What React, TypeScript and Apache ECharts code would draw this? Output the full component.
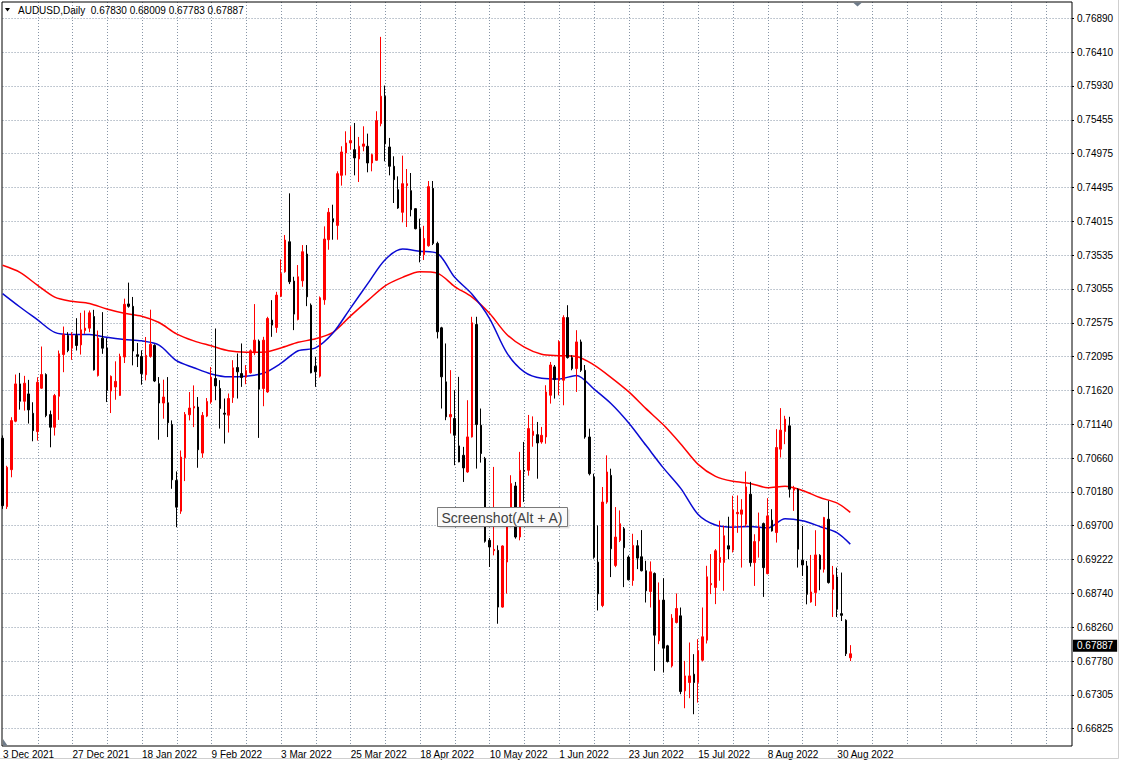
import React, { useEffect, useRef } from "react";
import * as echarts from "echarts";

// ---------- DATA ----------
const SYMBOL = "AUDUSD,Daily";
const MONTHS = ["Jan","Feb","Mar","Apr","May","Jun","Jul","Aug","Sep","Oct","Nov","Dec"];
const FIRST_DAY = [2021, 11, 3]; // 3 Dec 2021 (UTC y, m, d)
const BAR_COUNT = 196;
const SLOT_COUNT = 247; // bars + empty space on the right

const opens = [
0.70940,0.69971,0.70495,0.71181,0.71710,0.71464,0.71568,0.71294,0.71034,0.71649,
0.71843,0.71275,0.71096,0.71535,0.72126,0.72396,0.72216,0.72396,0.72263,0.72466,
0.72500,0.72665,0.71828,0.72358,0.72219,0.71609,0.71666,0.71547,0.72091,0.72843,
0.72809,0.72124,0.72100,0.71840,0.72100,0.72256,0.71713,0.71439,0.71443,0.71136,
0.70342,0.69907,0.70663,0.71273,0.71368,0.71382,0.70730,0.71254,0.71453,0.71786,
0.71645,0.71295,0.71267,0.71517,0.71942,0.71857,0.71810,0.71867,0.72150,0.72316,
0.71645,0.71597,0.72614,0.72510,0.72954,0.73299,0.73724,0.73167,0.72623,0.73171,
0.73550,0.72826,0.71961,0.71820,0.72902,0.73753,0.74051,0.73956,0.74665,0.74982,
0.75124,0.75029,0.74897,0.75077,0.75077,0.74840,0.74878,0.75398,0.75786,0.75067,
0.74793,0.74462,0.74141,0.74519,0.74448,0.74193,0.73909,0.73540,0.73668,0.74481,
0.73701,0.72505,0.71739,0.71243,0.71219,0.70832,0.70699,0.70463,0.70959,0.72552,
0.71125,0.70652,0.69494,0.69347,0.69352,0.68548,0.69187,0.69707,0.70264,0.69541,
0.70486,0.70486,0.70980,0.70991,0.70887,0.70958,0.71549,0.71951,0.71762,0.71762,
0.72650,0.72083,0.71927,0.72305,0.71903,0.70958,0.70391,0.69185,0.68571,0.70036,
0.70414,0.69138,0.69493,0.69658,0.69256,0.68925,0.69417,0.69261,0.69063,0.68769,
0.69025,0.68070,0.68647,0.67999,0.67715,0.68330,0.68424,0.67361,0.67479,0.67597,
0.67479,0.67796,0.68079,0.68864,0.68826,0.69181,0.69181,0.69417,0.69355,0.69870,
0.69864,0.69722,0.70147,0.69178,0.69486,0.69731,0.69022,0.69779,0.69604,0.70786,
0.71036,0.71116,0.70204,0.70218,0.69212,0.69131,0.68621,0.68753,0.69282,0.69084,
0.69793,0.68800,0.68975,0.68455,0.68361,0.67830
];
const highs = [
0.70980,0.70550,0.71238,0.71843,0.71866,0.71824,0.71767,0.71450,0.71805,0.72240,
0.71860,0.71332,0.71568,0.72183,0.72523,0.72443,0.72443,0.72641,0.72717,0.72750,
0.72750,0.72760,0.72466,0.72727,0.72358,0.71830,0.72030,0.72138,0.72918,0.73145,
0.72942,0.72290,0.72186,0.72375,0.72762,0.72271,0.71807,0.71770,0.71807,0.71193,
0.70470,0.70767,0.71311,0.71595,0.71689,0.71524,0.71311,0.71510,0.71949,0.72495,
0.71763,0.71503,0.71574,0.72046,0.72141,0.72283,0.71976,0.72198,0.72841,0.72339,
0.72377,0.72661,0.72897,0.73015,0.73474,0.73819,0.74410,0.73228,0.73394,0.73677,
0.73677,0.72850,0.72094,0.72949,0.73942,0.74202,0.74249,0.74722,0.75077,0.75289,
0.75360,0.75407,0.75209,0.75360,0.75256,0.74972,0.75573,0.76627,0.75937,0.75195,
0.74935,0.74651,0.74944,0.74755,0.74698,0.74200,0.74051,0.73950,0.74585,0.74585,
0.73725,0.72519,0.72283,0.71905,0.71621,0.71810,0.70818,0.71479,0.72661,0.72661,
0.71361,0.70676,0.69527,0.70534,0.69423,0.69423,0.69943,0.70416,0.70321,0.70747,
0.70888,0.71270,0.71250,0.71171,0.71100,0.71691,0.72021,0.71978,0.72329,0.72683,
0.72825,0.72116,0.72471,0.72338,0.71978,0.71076,0.70438,0.69705,0.70249,0.70698,
0.70509,0.69965,0.69918,0.69682,0.69280,0.69587,0.69497,0.69639,0.69204,0.69195,
0.69039,0.68897,0.68958,0.68013,0.68448,0.68741,0.68542,0.67786,0.68046,0.67881,
0.68093,0.68542,0.69133,0.69299,0.69370,0.69772,0.69701,0.69828,0.70126,0.70130,
0.70077,0.70469,0.70322,0.69580,0.69887,0.69746,0.70091,0.69935,0.71069,0.71367,
0.71258,0.71244,0.70266,0.70233,0.69698,0.69202,0.69287,0.69637,0.69297,0.69826,
0.70053,0.69131,0.69108,0.69037,0.68375,0.68009
];
const lows = [
0.69940,0.69938,0.70387,0.71167,0.71346,0.71332,0.71148,0.70897,0.70907,0.71640,
0.71238,0.70812,0.70978,0.71200,0.71876,0.72159,0.72051,0.72183,0.72126,0.72419,
0.72443,0.71899,0.71814,0.72136,0.71453,0.71297,0.71486,0.71540,0.72006,0.72790,
0.71973,0.71949,0.71699,0.71760,0.72081,0.71736,0.70919,0.71217,0.70957,0.70224,
0.69680,0.69869,0.70333,0.71193,0.71098,0.70522,0.70663,0.71240,0.71429,0.71479,
0.71077,0.70865,0.71021,0.71441,0.71503,0.71668,0.71706,0.71857,0.72117,0.70945,
0.71394,0.71583,0.72377,0.72434,0.72940,0.73285,0.73124,0.72472,0.72610,0.73086,
0.72812,0.71860,0.71668,0.71800,0.72831,0.73611,0.73753,0.73753,0.74519,0.74665,
0.75029,0.74665,0.74571,0.75006,0.74708,0.74722,0.74870,0.75360,0.74864,0.74665,
0.74273,0.74190,0.73999,0.73933,0.74084,0.73900,0.73432,0.73465,0.73654,0.73677,
0.72354,0.71361,0.71196,0.71007,0.70558,0.70600,0.70321,0.70450,0.70950,0.70510,
0.70595,0.69461,0.69116,0.69281,0.68312,0.68540,0.68738,0.69680,0.69518,0.69494,
0.70038,0.70410,0.70820,0.70367,0.70863,0.70863,0.71431,0.71502,0.71549,0.71407,
0.72069,0.71903,0.71596,0.71880,0.70934,0.70414,0.69233,0.68500,0.68547,0.70012,
0.68973,0.69114,0.69469,0.68831,0.68925,0.68850,0.69086,0.69053,0.68613,0.68542,
0.67644,0.68023,0.67621,0.67763,0.67692,0.68316,0.67314,0.67115,0.67257,0.67030,
0.67195,0.67777,0.68032,0.68732,0.68590,0.68921,0.68779,0.69228,0.69322,0.69600,
0.69108,0.69684,0.69122,0.68848,0.69249,0.68692,0.69013,0.69618,0.69462,0.70667,
0.70856,0.70100,0.69911,0.69108,0.68989,0.68587,0.68610,0.68564,0.68786,0.69037,
0.68881,0.68408,0.68408,0.68351,0.67855,0.67783
];
const closes = [
0.69985,0.70528,0.71190,0.71710,0.71464,0.71720,0.71342,0.71048,0.71734,0.71843,
0.71261,0.71096,0.71545,0.72136,0.72405,0.72183,0.72405,0.72254,0.72476,0.72500,
0.72717,0.71909,0.72358,0.72216,0.71618,0.71817,0.71746,0.72100,0.72838,0.72809,
0.72176,0.72100,0.71855,0.72115,0.72271,0.71751,0.71439,0.71524,0.71160,0.70351,
0.69964,0.70673,0.71278,0.71368,0.71391,0.70777,0.71264,0.71462,0.71807,0.71682,
0.71361,0.71281,0.71503,0.71938,0.71881,0.71801,0.71899,0.72179,0.72330,0.71635,
0.72330,0.72637,0.72543,0.72968,0.73275,0.73748,0.73157,0.72699,0.73228,0.73583,
0.72944,0.71867,0.71881,0.72930,0.73763,0.74141,0.74004,0.74689,0.74996,0.75124,
0.75157,0.74911,0.75077,0.75110,0.74840,0.74958,0.75440,0.75786,0.75110,0.74793,
0.74604,0.74202,0.74547,0.74547,0.74178,0.73909,0.73530,0.73770,0.74505,0.73701,
0.72448,0.71810,0.71243,0.71276,0.70983,0.70605,0.70520,0.70959,0.72576,0.71134,
0.70723,0.69480,0.69399,0.69366,0.68548,0.69414,0.69716,0.70298,0.69541,0.70486,
0.70472,0.71077,0.71040,0.70873,0.70982,0.71596,0.71978,0.71771,0.72305,0.72650,
0.72083,0.71927,0.72305,0.71903,0.70958,0.70438,0.69256,0.68736,0.70036,0.70462,
0.69374,0.69540,0.69729,0.69389,0.68935,0.69422,0.69242,0.69063,0.68779,0.69048,
0.68150,0.68647,0.67966,0.67777,0.68391,0.68528,0.67351,0.67573,0.67573,0.67479,
0.67928,0.68127,0.68977,0.68883,0.69346,0.69252,0.69559,0.69370,0.69923,0.69890,
0.69925,0.70251,0.69178,0.69476,0.69675,0.69107,0.69840,0.69628,0.70809,0.71055,
0.71211,0.70218,0.70233,0.69368,0.69145,0.68729,0.68762,0.69287,0.69084,0.69817,
0.68895,0.69004,0.68517,0.68431,0.67888,0.67887
];

// moving averages at these bars
const maBars = [0,4,8,12,16,20,24,28,32,36,40,44,48,52,56,60,64,68,72,76,80,84,88,92,96,100,104,108,112,116,120,124,128,132,136,140,144,148,152,156,160,164,168,172,176,180,184,188,192,195];
const maSlow = [0.7339,0.7329,0.7311,0.7294,0.7288,0.7285,0.7277,0.7271,0.7267,0.7258,0.7242,0.7232,0.7225,0.7218,0.7216,0.7216,0.7222,0.7230,0.7235,0.7244,0.7267,0.7289,0.7310,0.7322,0.7330,0.7328,0.7309,0.7294,0.7271,0.7241,0.7223,0.7213,0.7211,0.7210,0.7198,0.7180,0.7160,0.7136,0.7113,0.7086,0.7057,0.7040,0.7033,0.7030,0.7024,0.7026,0.7020,0.7010,0.7002,0.6989];
const maFast = [0.7299,0.7280,0.7262,0.7244,0.7241,0.7241,0.7237,0.7234,0.7232,0.7226,0.7204,0.7194,0.7185,0.7181,0.7182,0.7186,0.7200,0.7218,0.7222,0.7243,0.7278,0.7313,0.7347,0.7362,0.7359,0.7356,0.7322,0.7298,0.7264,0.7215,0.7188,0.7179,0.7178,0.7183,0.7164,0.7143,0.7116,0.7084,0.7052,0.7023,0.6986,0.6971,0.6968,0.6969,0.6967,0.6980,0.6977,0.6969,0.6960,0.6944];

// right-axis tick labels, bottom to top
const yTickLabels = ["0.66825","0.67305","0.67780","0.68260","0.68740","0.69222","0.69700","0.70180","0.70660","0.71140","0.71620","0.72095","0.72575","0.73055","0.73535","0.74015","0.74495","0.74975","0.75455","0.75930","0.76410","0.76890"];

// ---------- helpers ----------
function buildCategories(): string[] {
  const out: string[] = [];
  let t = Date.UTC(FIRST_DAY[0], FIRST_DAY[1], FIRST_DAY[2]);
  while (out.length < BAR_COUNT) {
    const d = new Date(t);
    const wd = d.getUTCDay();
    if (wd !== 0 && wd !== 6) out.push(`${d.getUTCDate()} ${MONTHS[d.getUTCMonth()]} ${d.getUTCFullYear()}`);
    t += 86400000;
  }
  while (out.length < SLOT_COUNT) out.push("");
  return out;
}

function sparse(values: number[]): (number | null)[] {
  const arr: (number | null)[] = new Array(BAR_COUNT).fill(null);
  maBars.forEach((b, i) => { arr[b] = values[i]; });
  return arr;
}

const FONT = '"Liberation Sans", Arial, sans-serif';
const GRID_LINE = { color: "#8795a6", type: [1, 2] as any, width: 1 };

export default function App() {
  const ref = useRef<HTMLDivElement>(null);

  useEffect(() => {
    if (!ref.current) return;
    const chart = echarts.init(ref.current, null, { renderer: "svg" });
    const cats = buildCategories();
    const yMin = parseFloat(yTickLabels[0]);
    const yMax = parseFloat(yTickLabels[yTickLabels.length - 1]);
    const yStep = (yMax - yMin) / (yTickLabels.length - 1);
    const last = BAR_COUNT - 1;
    const header = `${SYMBOL}  ${opens[last].toFixed(5)} ${highs[last].toFixed(5)} ${lows[last].toFixed(5)} ${closes[last].toFixed(5)}`;
    const candleData = opens.map((o, i) => [o, closes[i], lows[i], highs[i]]);

    const plotLeft = 2.56;
    const plotWidth = 1072 - plotLeft;

    const option: any = {
      animation: false,
      backgroundColor: "#ffffff",
      textStyle: { fontFamily: FONT },
      grid: [
        { left: 2, top: 2, width: 1070, height: 744, show: true, borderColor: "#000000", borderWidth: 1, backgroundColor: "transparent", z: 3 },
        { left: plotLeft, top: 2, width: plotWidth, height: 744 },
        { left: plotLeft, top: 18.3, width: plotWidth, height: 710.4 },
      ],
      xAxis: [
        { type: "value", gridIndex: 0, show: false, min: 0, max: 1 },
        {
          type: "category", gridIndex: 1, data: cats, boundaryGap: false,
          axisLine: { show: false }, axisTick: { show: false },
          axisLabel: {
            interval: (i: number) => i % 16 === 0 && i < BAR_COUNT,
            align: "left", margin: 3, fontSize: 10, color: "#000000", fontFamily: FONT,
          },
          splitLine: { show: true, interval: (i: number) => i > 0 && i % 8 === 0, lineStyle: GRID_LINE },
        },
        { type: "category", gridIndex: 2, data: cats, boundaryGap: false, show: false },
      ],
      yAxis: [
        { type: "value", gridIndex: 0, show: false, min: 0, max: 1 },
        { type: "value", gridIndex: 1, show: false, min: 0, max: 1 },
        {
          type: "value", gridIndex: 2, position: "right", min: yMin, max: yMax, interval: yStep,
          axisLine: { show: false },
          axisTick: { show: true, length: 2, lineStyle: { color: "#000000" } },
          axisLabel: {
            margin: 5, fontSize: 10, color: "#000000", fontFamily: FONT,
            formatter: (v: number) => yTickLabels[Math.round((v - yMin) / yStep)] ?? "",
          },
          splitLine: { show: true, lineStyle: GRID_LINE },
        },
      ],
      series: [
        {
          type: "line", name: "MA slow", xAxisIndex: 2, yAxisIndex: 2, data: sparse(maSlow),
          connectNulls: true, showSymbol: false, symbol: "none", smooth: 0.3, silent: true,
          lineStyle: { color: "#ff0000", width: 1.5 }, z: 3,
        },
        {
          type: "line", name: "MA fast", xAxisIndex: 2, yAxisIndex: 2, data: sparse(maFast),
          connectNulls: true, showSymbol: false, symbol: "none", smooth: 0.3, silent: true,
          lineStyle: { color: "#0a0ad2", width: 1.5 }, z: 3,
        },
        {
          type: "candlestick", name: "AUDUSD", xAxisIndex: 2, yAxisIndex: 2, data: candleData,
          barWidth: 2, clip: false, silent: true, z: 4,
          itemStyle: { color: "#ff0000", color0: "#000000", borderColor: "#ff0000", borderColor0: "#000000", borderWidth: 1 },
          markLine: {
            silent: true, symbol: ["none", "none"], z: 10,
            lineStyle: { color: "rgba(0,0,0,0)", width: 0, type: "solid" },
            label: {
              show: true, position: "end", distance: 1,
              formatter: () => closes[last].toFixed(5),
              backgroundColor: "#000000", color: "#ffffff", fontSize: 10, fontFamily: FONT,
              padding: [1, 4, 1, 4], opacity: 1,
            },
            data: [{ yAxis: closes[last] }],
          },
        },
      ],
      graphic: [
        { type: "polygon", shape: { points: [[5, 8], [10, 8], [7.5, 11.5]] }, style: { fill: "#000000" }, z: 100 },
        { type: "text", x: 18, y: 10, style: { text: header, fill: "#000000", font: `10px ${FONT}`, verticalAlign: "middle" }, z: 100 },
        { type: "polygon", shape: { points: [[853, 2.5], [862, 2.5], [857.5, 6.5]] }, style: { fill: "#6e7b8a" }, z: 100 },
        { type: "polygon", shape: { points: [[3, 739], [3, 745.5], [7.5, 745.5]] }, style: { fill: "#6e7b8a" }, z: 100 },
        { type: "line", shape: { x1: 1118.5, y1: 0, x2: 1118.5, y2: 758.5 }, style: { stroke: "#cfcfcf", lineWidth: 1 }, z: 100 },
        { type: "line", shape: { x1: 0, y1: 758.5, x2: 1118.5, y2: 758.5 }, style: { stroke: "#cfcfcf", lineWidth: 1 }, z: 100 },
        {
          type: "group", x: 437.5, y: 507.5, z: 120,
          children: [
            { type: "rect", shape: { x: 2, y: 2, width: 130, height: 19 }, style: { fill: "rgba(0,0,0,0.12)" }, z: 120 },
            { type: "rect", shape: { x: 0, y: 0, width: 130, height: 19 }, style: { fill: "#fafafa", stroke: "#7a7a7a", lineWidth: 1 }, z: 121 },
            { type: "text", x: 4, y: 10, style: { text: "Screenshot(Alt + A)", fill: "#404040", font: `14px ${FONT}`, verticalAlign: "middle" }, z: 122 },
          ],
        },
      ],
    };

    chart.setOption(option);
    return () => chart.dispose();
  }, []);

  return (
    <div
      ref={ref}
      style={{ position: "fixed", left: 0, top: 0, width: 1128, height: 768, background: "#ffffff" }}
    />
  );
}
